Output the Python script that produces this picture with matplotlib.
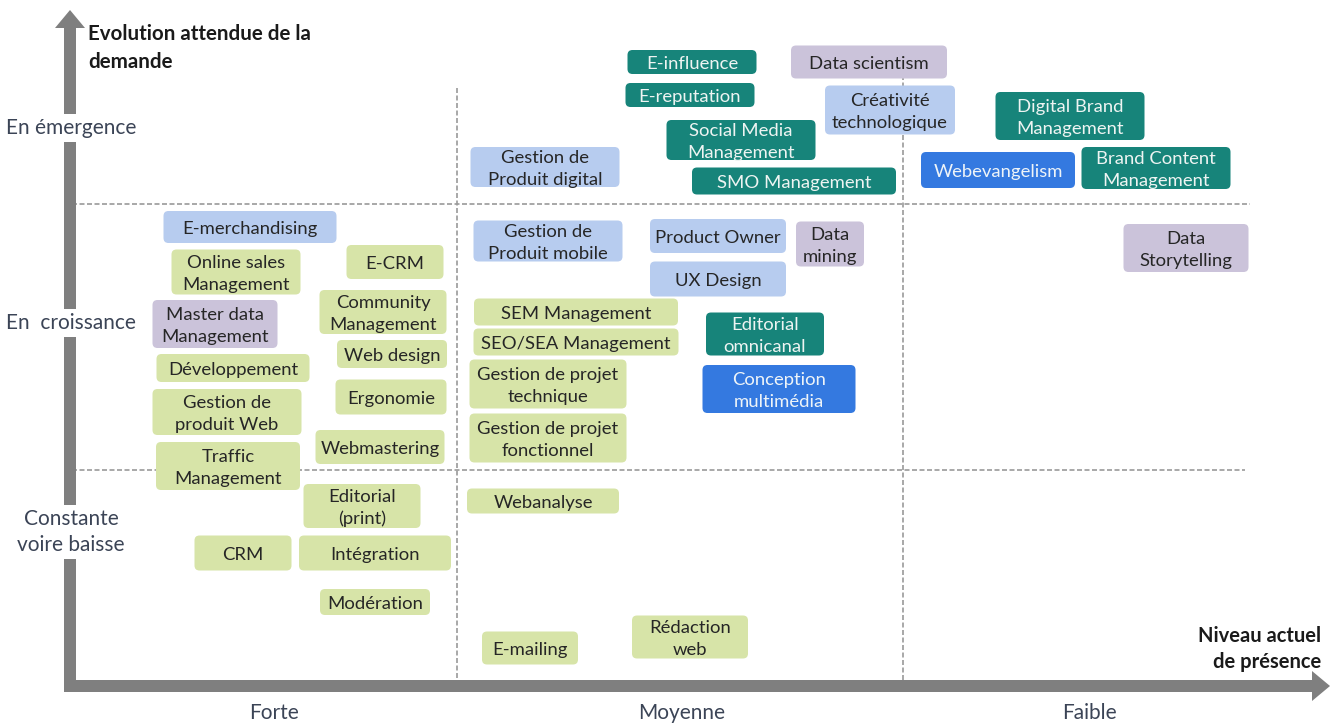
import matplotlib.pyplot as plt
from matplotlib.patches import FancyBboxPatch, FancyArrow

plt.rcParams['font.family'] = ['Lato', 'DejaVu Sans']

# skills: label, centre x / y on the grid (pixel units), box width / height, family
skills = ["E-influence", "E-reputation", "Data scientism", "Créativité\ntechnologique",
          "Social Media\nManagement", "Gestion de\nProduit digital", "SMO Management",
          "Digital Brand\nManagement", "Webevangelism", "Brand Content\nManagement",
          "E-merchandising", "Online sales\nManagement", "E-CRM", "Master data\nManagement",
          "Community\nManagement", "Web design", "Développement", "Gestion de\nproduit Web",
          "Ergonomie", "Traffic\nManagement", "Webmastering",
          "Gestion de\nProduit mobile", "Product Owner", "Data\nmining", "UX Design",
          "SEM Management", "SEO/SEA Management", "Gestion de projet\ntechnique",
          "Gestion de projet\nfonctionnel", "Editorial\nomnicanal", "Conception\nmultimédia",
          "Data\nStorytelling",
          "Editorial\n(print)", "CRM", "Intégration", "Modération",
          "Webanalyse", "E-mailing", "Rédaction\nweb"]
presence = [692, 690, 869, 890, 741, 545, 794, 1070, 998, 1156,
            250, 236, 395, 215, 383, 392, 233, 227, 391, 228, 380,
            548, 718, 830, 718, 576, 576, 548, 548, 765, 779, 1186,
            362, 243, 375, 375, 543, 530, 690]
demand = [62, 95, 62, 110, 140, 167, 181, 116, 170, 168,
          227, 272, 262, 324, 312, 354, 368, 412, 397, 466, 447,
          241, 236, 244, 279, 312, 342, 384, 438, 334, 389, 248,
          506, 553, 553, 602, 501, 648, 637]
box_w = [129, 129, 156, 130, 149, 149, 204, 149, 154, 149,
         173, 129, 97, 125, 127, 110, 153, 149, 111, 144, 129,
         149, 136, 68, 136, 204, 205, 157, 157, 118, 153, 125,
         117, 97, 152, 110, 152, 96, 116]
box_h = [24, 24, 33, 49, 40, 40, 27, 48, 36, 42,
         32, 45, 34, 48, 44, 28, 28, 46, 35, 48, 34,
         41, 34, 45, 35, 27, 27, 49, 49, 43, 48, 48,
         44, 35, 35, 26, 25, 33, 43]
family = ["teal", "teal", "purple", "lblue", "teal", "lblue", "teal", "teal", "blue", "teal",
          "lblue", "green", "green", "purple", "green", "green", "green", "green", "green", "green", "green",
          "lblue", "lblue", "purple", "lblue", "green", "green", "green", "green", "teal", "blue", "purple",
          "green", "green", "green", "green", "green", "green", "green"]

row_labels = ["En émergence", "En  croissance", "Constante\nvoire baisse"]
row_pos = [128, 323, 532]
col_labels = ["Forte", "Moyenne", "Faible"]
col_pos = [274, 682, 1089]

fill = {"green": "#d7e4a8", "lblue": "#b7ccef", "purple": "#cbc3da",
        "teal": "#17847a", "blue": "#3479e0"}
ink = {"green": "#262626", "lblue": "#262626", "purple": "#262626",
       "teal": "#eef4f2", "blue": "#eef4f8"}

fig = plt.figure(figsize=(13.36, 7.24), dpi=100)
ax = fig.add_axes([0, 0, 1, 1])
ax.set_xlim(0, 1336)
ax.set_ylim(724, 0)
ax.axis('off')

# grid separators
dash = dict(color="#9a9a9a", lw=1.2, ls=(0, (3, 1.5)), zorder=1)
ax.plot([72, 1250], [204, 204], **dash)
ax.plot([72, 1245], [470, 470], **dash)
ax.plot([457, 457], [88, 680], **dash)
ax.plot([903, 903], [60, 680], **dash)

# axes arrows
grey = "#7f7f7f"
ax.add_patch(FancyArrow(70, 692, 0, -682, width=12, head_width=30, head_length=18,
                        length_includes_head=True, color=grey, lw=0, zorder=2))
ax.add_patch(FancyArrow(64, 686, 1266, 0, width=12, head_width=30, head_length=18,
                        length_includes_head=True, color=grey, lw=0, zorder=2))

for lab, x, y, w, h, f in zip(skills, presence, demand, box_w, box_h, family):
    ax.add_patch(FancyBboxPatch((x - w / 2, y - h / 2), w, h,
                                boxstyle="round,pad=0,rounding_size=5",
                                fc=fill[f], ec="none", zorder=3))
    ax.text(x, y + 2, lab, ha="center", va="center", fontsize=13.3, color=ink[f],
            linespacing=1.45, zorder=4)

for lab, y in zip(row_labels, row_pos):
    ax.text(71, y, lab, ha="center", va="center", fontsize=15, color="#3b4456",
            linespacing=1.35, zorder=5,
            bbox=dict(fc="white", ec="none", pad=3))

for lab, x in zip(col_labels, col_pos):
    ax.text(x, 713, lab, ha="center", va="center", fontsize=15, color="#3b4456")

ax.text(88, 48, "Evolution attendue de la\ndemande", ha="left", va="center",
        fontsize=14.8, fontweight="bold", color="#1a1a1a", linespacing=1.45)
ax.text(1321, 649, "Niveau actuel\nde présence", ha="right", va="center",
        fontsize=14.5, fontweight="bold", color="#1a1a1a", linespacing=1.4)

fig.savefig("out.png", dpi=100)
